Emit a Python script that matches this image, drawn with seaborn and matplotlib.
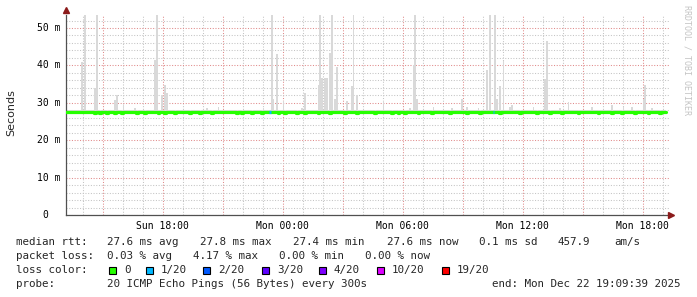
import numpy as np
import pandas as pd
import matplotlib
matplotlib.use("Agg")
import matplotlib.pyplot as plt
import matplotlib.transforms as mtransforms
from matplotlib.patches import Rectangle
from matplotlib.ticker import MultipleLocator
import seaborn as sns

# ---------------- data (hours since Sun 00:00, values in ms) ----------------
start_hour = 13 + 9 / 60 + 39 / 3600      # Sun 13:09:39
n_steps = 360                              # 30 h of 5-minute steps
base_median = 27.6
base_low = 27.3
base_high = 28.0

spike_hours = [13.95, 14.05, 14.6, 14.7, 15.55, 15.65, 16.0, 16.55, 17.6, 17.7,
               17.9, 18.1, 18.2, 20.15, 20.75, 23.0, 23.4, 23.5, 23.65, 24.0,
               24.95, 25.1, 25.75, 25.8, 25.95, 26.05, 26.15, 26.3, 26.4, 26.45,
               26.55, 26.65, 27.2, 27.4, 27.5, 27.7, 29.0, 30.3, 30.5, 30.6,
               30.7, 31.5, 32.45, 32.95, 33.15, 33.75, 34.2, 34.3, 34.55, 34.7,
               34.85, 35.0, 35.3, 35.45, 36.5, 37.1, 37.2, 37.8, 38.25, 39.4,
               40.4, 41.0, 41.4, 42.0, 42.1, 42.45]
spike_max = [41.0, 54.0, 34.0, 54.0, 30.8, 32.1, 29.4, 28.6, 41.5, 54.0,
             32.2, 34.8, 32.6, 28.5, 29.0, 28.6, 54.0, 31.1, 43.0, 30.6,
             28.6, 32.6, 34.8, 54.0, 36.6, 36.6, 36.6, 43.2, 43.0, 54.0,
             31.1, 39.5, 30.6, 34.4, 54.0, 32.1, 30.5, 28.7, 40.2, 54.0,
             30.9, 29.0, 28.7, 31.0, 29.0, 28.7, 38.9, 54.0, 54.0, 31.0,
             34.4, 41.3, 29.0, 29.4, 29.0, 36.4, 46.4, 28.7, 30.3, 29.0,
             29.4, 29.0, 28.8, 30.9, 34.8, 28.6]

dip_hours = [14.55, 14.85, 15.2, 15.55, 15.95, 16.7, 17.1, 17.75, 18.1, 18.6,
             19.3, 19.85, 20.45, 21.7, 21.95, 22.45, 22.95, 23.75, 24.1, 24.65,
             25.1, 25.75, 26.35, 27.1, 27.65, 28.6, 29.45, 29.75, 30.05, 30.75,
             31.45, 32.35, 33.15, 33.85, 34.85, 35.85, 36.7, 37.35, 37.95, 38.75,
             39.75, 40.4, 40.95, 41.6, 42.25, 42.85]
dip_median = 27.4

loss_hours = [23.35, 34.5]
loss_color_idx = [1, 1]

tick_hours = [18, 24, 30, 36, 42]
tick_labels = ["Sun 18:00", "Mon 00:00", "Mon 06:00", "Mon 12:00", "Mon 18:00"]
ytick_vals = [0, 10, 20, 30, 40, 50]
ytick_labels = ["0", "10 m", "20 m", "30 m", "40 m", "50 m"]

loss_names = ["0", "1/20", "2/20", "3/20", "4/20", "10/20", "19/20"]
loss_colors = ["#26ff00", "#00b8ff", "#0059ff", "#5e00ff", "#7e00ff", "#dd00ff", "#ff0000"]

rtt_stats = ["27.6 ms avg", "27.8 ms max", "27.4 ms min", "27.6 ms now", "0.1 ms sd", "457.9", "am/s"]
loss_stats = ["0.03 % avg", "4.17 % max", "0.00 % min", "0.00 % now"]
probe_text = "20 ICMP Echo Pings (56 Bytes) every 300s"
end_text = "end: Mon Dec 22 19:09:39 2025"

# ---------------- build table ----------------
step = 5 / 60
t = start_hour + np.arange(n_steps) * step
med = np.full(n_steps, base_median)
hi = np.full(n_steps, base_high)
for h, v in zip(spike_hours, spike_max):
    i = int(round((h - start_hour) / step))
    if 0 <= i < n_steps:
        hi[i] = max(hi[i], v)
for h in dip_hours:
    i = int(round((h - start_hour) / step))
    if 0 <= i < n_steps:
        med[i] = dip_median
df = pd.DataFrame({"t": t, "median": med, "hi": hi})

# ---------------- figure ----------------
W, H = 697, 297
sns.set_style("white")
plt.rcParams["font.family"] = ["DejaVu Sans Mono"]
fig = plt.figure(figsize=(W / 100, H / 100), dpi=100, facecolor="white")
L, R, T, B = 66, 669, 15, 215
ax = fig.add_axes([L / W, 1 - B / H, (R - L) / W, (B - T) / H])
ax.set_facecolor("white")

x0 = start_hour
x1 = start_hour + (R - L) / 20.0
ax.set_xlim(x0, x1)
ax.set_ylim(0, (B - T) / 3.74)

# grid
ax.xaxis.set_major_locator(MultipleLocator(3))
ax.xaxis.set_minor_locator(MultipleLocator(1))
ax.yaxis.set_major_locator(MultipleLocator(10))
ax.yaxis.set_minor_locator(MultipleLocator(2))
ax.set_axisbelow(True)
ax.grid(which="minor", color="#c4c4c4", ls=(0, (1, 1.6)), lw=0.75)
ax.grid(which="major", color="#e08a8a", ls=(0, (1, 1.6)), lw=0.75)

# smoke
ax.bar(df["t"], df["hi"] - base_low, bottom=base_low, width=step, align="edge",
       color="#d9d9d9", linewidth=0, zorder=2)

# median line (loss 0 colour), then lossy intervals
edge_t = np.append(df["t"].values, df["t"].values[-1] + step)
edge_m = np.append(df["median"].values, df["median"].values[-1])
sns.lineplot(x=edge_t, y=edge_m, drawstyle="steps-post", color=loss_colors[0],
             lw=2.3, ax=ax, zorder=3)
for h, ci in zip(loss_hours, loss_color_idx):
    i = int(round((h - start_hour) / step))
    ax.hlines(med[i], t[i], t[i] + step, color=loss_colors[ci], lw=2.3, zorder=4)

# axes
for s in ["top", "right"]:
    ax.spines[s].set_visible(False)
for s in ["left", "bottom"]:
    ax.spines[s].set_color("#505050")
    ax.spines[s].set_linewidth(0.9)
ax.set_xlabel("")
ax.set_ylabel("")

major_x = ax.xaxis.get_major_locator().tick_values(x0, x1)
major_x = [m for m in major_x if x0 <= m <= x1]
lab_map = dict(zip(tick_hours, tick_labels))
ax.set_xticks(major_x, labels=[lab_map.get(int(round(m)), "") if abs(m - round(m)) < 1e-6 else "" for m in major_x])
ax.tick_params(axis="x", which="major", length=3, width=0.8, color="#777777", pad=1.5,
               labelsize=7, labelcolor="black")
ax.tick_params(axis="x", which="minor", length=2, width=0.8, color="#999999")
ax.set_yticks(ytick_vals, labels=[""] * len(ytick_vals))
ax.tick_params(axis="y", which="major", length=3, width=0.8, color="#777777")
ax.tick_params(axis="y", which="minor", length=0)

blend = mtransforms.blended_transform_factory(fig.transFigure, ax.transData)
for v, lab in zip(ytick_vals, ytick_labels):
    xr = 60 if " " in lab else 48
    fig.text(xr / W, 0, lab, transform=blend, ha="right", va="center", fontsize=7,
             color="black").set_y(v)

# arrows
ax.plot([x0], [ax.get_ylim()[1] + 1.3], marker="^", ms=5, color="#8b1a1a", clip_on=False, zorder=5)
ax.plot([x1 + 0.12], [0], marker=">", ms=5, color="#8b1a1a", clip_on=False, zorder=5)

# y label, watermark
fig.text(11 / W, 1 - 113 / H, "Seconds", rotation=90, ha="center", va="center",
         fontsize=8, family=["DejaVu Sans"])
fig.text(687 / W, 1 - 60 / H, "RRDTOOL / TOBI OETIKER", rotation=270, ha="center",
         va="center", fontsize=6, color="#c4c4c4")

# legend text
fs = 7.8
def put(x, ybase, s, **kw):
    fig.text(x / W, 1 - ybase / H, s, ha="left", va="baseline", fontsize=fs, **kw)

put(16, 245, "median rtt:")
for x, s in zip([107, 200, 293, 387, 479, 558, 614], rtt_stats):
    put(x, 245, s)
put(16, 259, "packet loss:")
for x, s in zip([107, 193, 279, 365], loss_stats):
    put(x, 259, s)
put(16, 273, "loss color:")
sq_x = [109, 146, 203, 262, 319, 377, 442]
for x, name, c in zip(sq_x, loss_names, loss_colors):
    fig.patches.append(Rectangle((x / W, 1 - 273.5 / H), 7 / W, 7 / H, transform=fig.transFigure,
                                 facecolor=c, edgecolor="black", lw=0.8))
    put(x + 15, 273, name)
put(16, 287, "probe:")
put(107, 287, probe_text)
put(492, 287, end_text)

fig.savefig("out.png", dpi=100, facecolor="white")
